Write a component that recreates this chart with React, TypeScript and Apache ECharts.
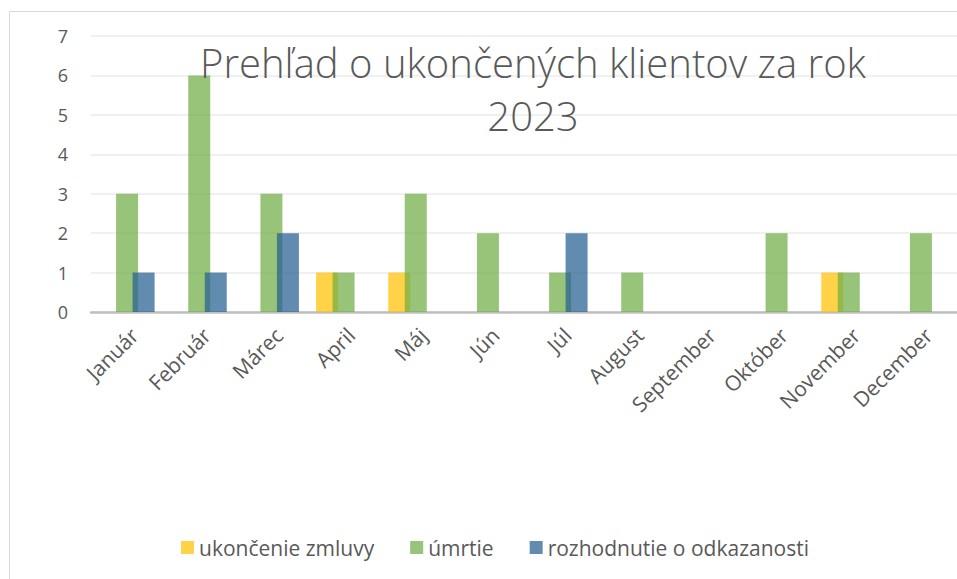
import React, { useEffect, useRef } from "react";
import * as echarts from "echarts";

const months = ["Január", "Február", "Márec", "April", "Máj", "Jún", "Júl", "August", "September", "Október", "November", "December"];
const ukoncenieZmluvy = [0, 0, 0, 1, 1, 0, 0, 0, 0, 0, 1, 0];
const umrtie = [3, 6, 3, 1, 3, 2, 1, 1, 0, 2, 1, 2];
const rozhodnutie = [1, 1, 2, 0, 0, 0, 2, 0, 0, 0, 0, 0];
const seriesNames = ["ukončenie zmluvy", "úmrtie", "rozhodnutie o odkazanosti"];
const titleText = "Prehľad o ukončených klientov za rok\n2023";

const FONT = "'Open Sans', 'Noto Sans', sans-serif";

export default function App() {
  const ref = useRef<HTMLDivElement>(null);
  useEffect(() => {
    document.body.style.margin = "0";
    const chart = echarts.init(ref.current!, null, { renderer: "svg" });
    const barStyle = (color: string) => ({ color, opacity: 0.72 });
    chart.setOption({
      animation: false,
      backgroundColor: "#ffffff",
      textStyle: { fontFamily: FONT },
      title: {
        text: titleText,
        left: 528,
        top: 31,
        textAlign: "center",
        textStyle: { fontFamily: FONT, fontSize: 40, fontWeight: 300, color: "#595959", lineHeight: 53 },
      },
      graphic: [
        {
          type: "rect",
          shape: { x: 9.5, y: 11.5, width: 1100, height: 1000 },
          style: { fill: "none", stroke: "#D9D9D9", lineWidth: 1 },
          silent: true,
          z: -10,
        },
      ],
      legend: {
        left: 176,
        top: 532,
        icon: "rect",
        itemWidth: 13,
        itemHeight: 13,
        itemGap: 36,
        textStyle: { fontFamily: FONT, fontSize: 21, color: "#595959" },
        data: seriesNames,
      },
      grid: { left: 91, top: 36, width: 880, height: 276, containLabel: false },
      xAxis: {
        type: "category",
        data: months,
        axisLine: { lineStyle: { color: "#BFBFBF", width: 2.5 } },
        axisTick: { show: false },
        axisLabel: { rotate: 45, interval: 0, margin: 12, verticalAlign: "top", fontFamily: FONT, fontSize: 21, color: "#595959" },
      },
      yAxis: {
        type: "value",
        min: 0,
        max: 7,
        interval: 1,
        axisLine: { show: false },
        axisTick: { show: false },
        axisLabel: { margin: 23, fontFamily: FONT, fontSize: 18, color: "#595959" },
        splitLine: { lineStyle: { color: "#EBEBEB", width: 1.5 } },
      },
      series: [
        { name: seriesNames[0], type: "bar", data: ukoncenieZmluvy, barWidth: 22, barGap: "-25%", itemStyle: barStyle("#FFC000") },
        { name: seriesNames[1], type: "bar", data: umrtie, barWidth: 22, barGap: "-25%", itemStyle: barStyle("#70AD47") },
        { name: seriesNames[2], type: "bar", data: rozhodnutie, barWidth: 22, barGap: "-25%", itemStyle: barStyle("#255E91") },
      ],
    });
    return () => chart.dispose();
  }, []);
  return <div ref={ref} style={{ position: "fixed", left: 0, top: 0, width: 957, height: 579 }} />;
}
